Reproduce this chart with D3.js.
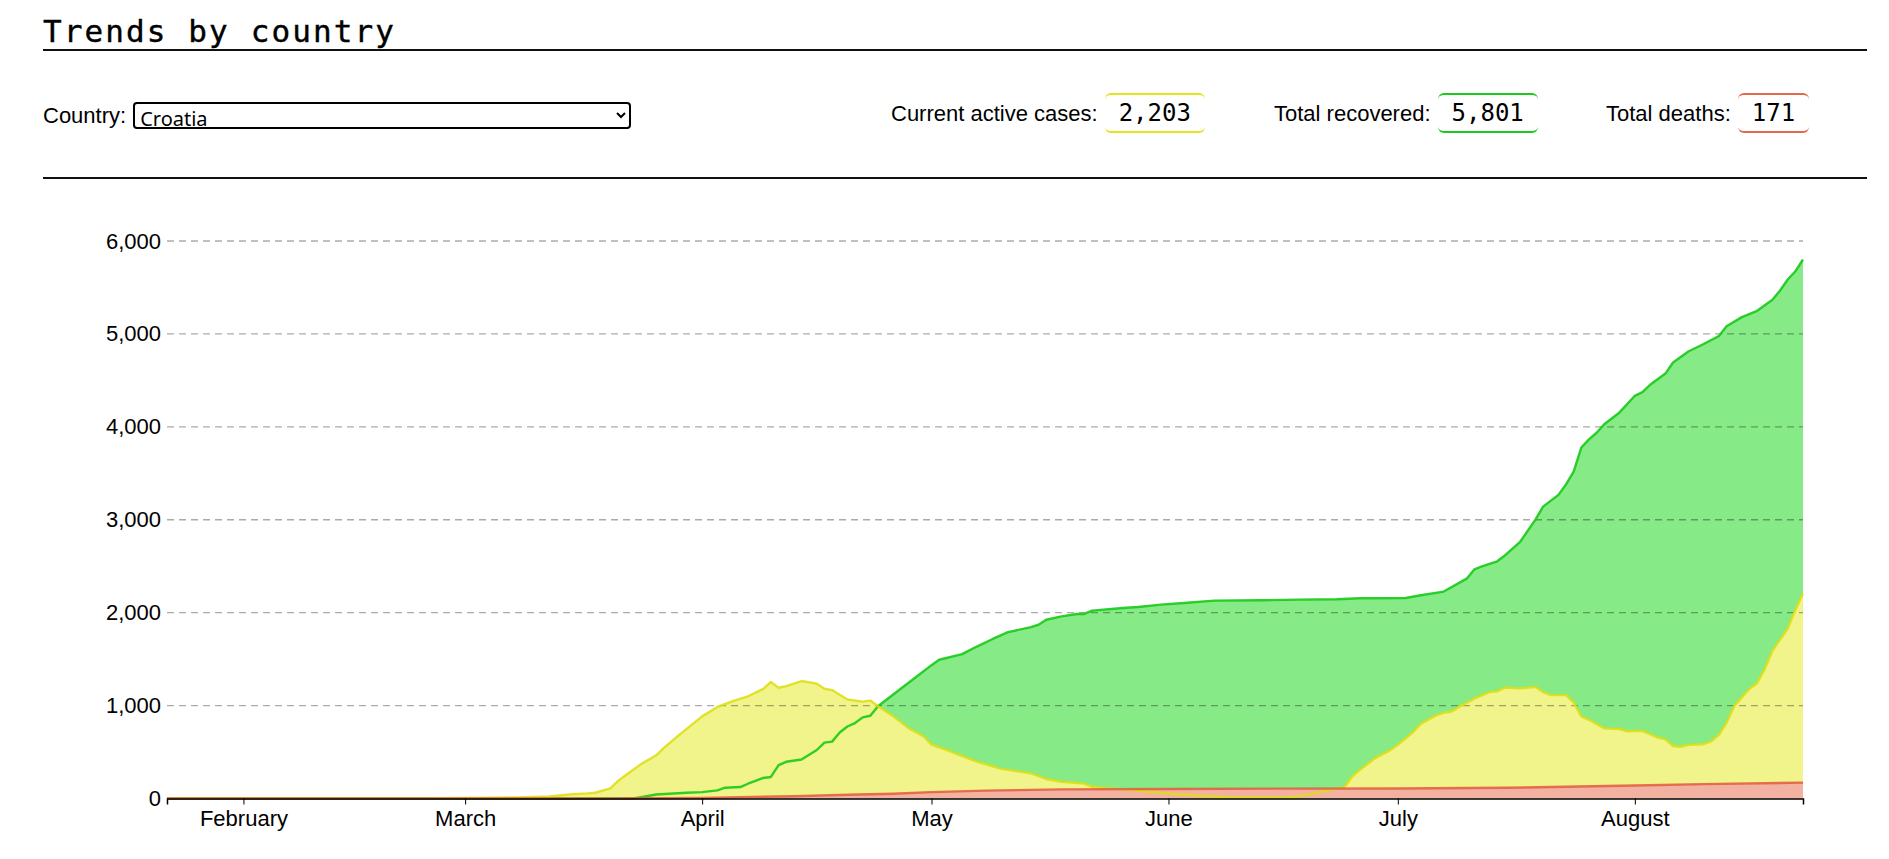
<!DOCTYPE html>
<html>
<head>
<meta charset="utf-8">
<title>Trends by country</title>
<script src="https://cdn.jsdelivr.net/npm/d3@7"></script>
<style>
  body { margin: 0; background: #fff; font-family: "Liberation Sans", Arial, sans-serif; color: #000; }
  #page { position: relative; width: 1889px; height: 859px; overflow: hidden; }
  .title { position: absolute; left: 43px; top: 16px; font: 31px/31px "DejaVu Sans Mono", monospace; letter-spacing: 2.1px; margin: 0; font-weight: normal; -webkit-text-stroke: 0.4px #000; }
  .rule { position: absolute; left: 43px; width: 1824px; height: 2px; background: #111; }
  .picker { position: absolute; left: 43px; top: 102px; display: flex; align-items: center; font-size: 22px; }
  .picker select { margin-left: 7px; width: 498px; height: 27px; border: 2px solid #000; border-radius: 4px;
    font: 20px/23px "Noto Sans", sans-serif; padding: 0 1px; background: #fff; color: #000; }
  .stat { position: absolute; top: 93px; height: 40px; display: flex; align-items: baseline; font-size: 22px; }
  .stat .val { margin-left: 7px; height: 36px; line-height: 36px; padding: 0 14px; border-radius: 6px;
    border-top: 2px solid; border-bottom: 2px solid; font: 24px/36px "DejaVu Sans Mono", monospace; }
  #chart { position: absolute; left: 0; top: 0; }
</style>
</head>
<body>
<div id="page">
  <h2 class="title">Trends by country</h2>
  <div class="rule" style="top:49px"></div>
  <div class="picker">Country: <select id="country"></select></div>
  <div class="stat" style="left:891px">Current active cases: <span class="val" id="v-active"></span></div>
  <div class="stat" style="left:1274px">Total recovered: <span class="val" id="v-recovered"></span></div>
  <div class="stat" style="left:1606px">Total deaths: <span class="val" id="v-deaths"></span></div>
  <div class="rule" style="top:177px"></div>
  <svg id="chart" width="1889" height="859"></svg>
</div>
<script>
const countries = ["Croatia"];

const activeDates = ["2020-01-22","2020-02-24","2020-02-27","2020-03-03","2020-03-08","2020-03-12","2020-03-15","2020-03-17","2020-03-18","2020-03-20","2020-03-21","2020-03-22","2020-03-24","2020-03-26","2020-03-27","2020-03-29","2020-04-01","2020-04-03","2020-04-05","2020-04-07","2020-04-09","2020-04-10","2020-04-11","2020-04-12","2020-04-14","2020-04-16","2020-04-17","2020-04-18","2020-04-20","2020-04-22","2020-04-23","2020-04-24","2020-04-26","2020-04-28","2020-04-30","2020-05-01","2020-05-03","2020-05-07","2020-05-10","2020-05-14","2020-05-16","2020-05-18","2020-05-21","2020-05-22","2020-05-27","2020-05-29","2020-06-01","2020-06-05","2020-06-09","2020-06-13","2020-06-17","2020-06-19","2020-06-21","2020-06-24","2020-06-25","2020-06-26","2020-06-28","2020-06-30","2020-07-01","2020-07-03","2020-07-04","2020-07-06","2020-07-07","2020-07-08","2020-07-09","2020-07-11","2020-07-13","2020-07-14","2020-07-15","2020-07-17","2020-07-19","2020-07-20","2020-07-21","2020-07-23","2020-07-24","2020-07-25","2020-07-26","2020-07-28","2020-07-30","2020-07-31","2020-08-02","2020-08-04","2020-08-05","2020-08-06","2020-08-07","2020-08-08","2020-08-10","2020-08-11","2020-08-12","2020-08-13","2020-08-14","2020-08-16","2020-08-17","2020-08-18","2020-08-19","2020-08-21","2020-08-22","2020-08-23"];
const activeValues = [0,0,3,6,12,22,45,55,62,108,190,250,370,465,545,685,884,985,1047,1100,1180,1254,1192,1210,1264,1236,1181,1167,1065,1043,1054,993,884,757,667,580,520,395,322,270,210,180,160,126,90,76,54,29,14,11,14,36,72,119,234,306,432,520,577,716,803,895,922,934,986,1074,1145,1153,1193,1185,1201,1145,1113,1113,1034,883,847,755,748,724,728,656,636,565,557,577,584,616,684,815,994,1181,1241,1392,1590,1829,2028,2203];

const recoveredDates = ["2020-01-22","2020-03-23","2020-03-24","2020-03-26","2020-03-30","2020-04-01","2020-04-03","2020-04-04","2020-04-06","2020-04-07","2020-04-09","2020-04-10","2020-04-11","2020-04-12","2020-04-14","2020-04-16","2020-04-17","2020-04-18","2020-04-19","2020-04-20","2020-04-21","2020-04-22","2020-04-23","2020-04-24","2020-04-26","2020-04-28","2020-05-01","2020-05-02","2020-05-05","2020-05-07","2020-05-09","2020-05-11","2020-05-14","2020-05-15","2020-05-16","2020-05-18","2020-05-20","2020-05-21","2020-05-22","2020-05-26","2020-05-28","2020-05-31","2020-06-03","2020-06-07","2020-06-13","2020-06-18","2020-06-23","2020-06-26","2020-07-02","2020-07-04","2020-07-07","2020-07-10","2020-07-11","2020-07-12","2020-07-14","2020-07-15","2020-07-17","2020-07-19","2020-07-20","2020-07-22","2020-07-23","2020-07-24","2020-07-25","2020-07-26","2020-07-27","2020-07-28","2020-07-30","2020-08-01","2020-08-02","2020-08-03","2020-08-05","2020-08-06","2020-08-08","2020-08-10","2020-08-12","2020-08-13","2020-08-15","2020-08-17","2020-08-19","2020-08-20","2020-08-21","2020-08-22","2020-08-23"];
const recoveredValues = [0,0,14,43,62,69,87,116,123,159,221,232,359,395,420,522,601,612,710,775,812,873,891,993,1120,1246,1435,1493,1554,1638,1717,1790,1845,1870,1924,1960,1986,1986,2022,2050,2061,2086,2104,2130,2133,2140,2144,2155,2158,2187,2227,2366,2465,2497,2553,2616,2763,3002,3141,3268,3380,3519,3777,3865,3936,4028,4155,4334,4374,4453,4573,4692,4811,4891,4978,5082,5181,5249,5368,5467,5586,5674,5801];

const deathDates = ["2020-01-22","2020-03-18","2020-03-20","2020-03-25","2020-04-01","2020-04-06","2020-04-13","2020-04-20","2020-04-26","2020-05-01","2020-05-08","2020-05-18","2020-06-01","2020-06-15","2020-07-01","2020-07-15","2020-08-01","2020-08-10","2020-08-23"];
const deathValues = [0,0,1,3,6,15,25,40,51,69,85,98,103,106,108,115,140,155,171];

const monthTicks = ["2020-02-01","2020-03-01","2020-04-01","2020-05-01","2020-06-01","2020-07-01","2020-08-01"];
const yTicks = [0,1000,2000,3000,4000,5000,6000];
const dateRange = ["2020-01-22","2020-08-23"];

const parse = d3.timeParse("%Y-%m-%d");
const fmt = d3.format(",");

const series = [
  { key: "recovered", dates: recoveredDates, values: recoveredValues, line: "#14c814", fill: "#86ea86" },
  { key: "active",    dates: activeDates,    values: activeValues,    line: "#dede14", fill: "#f1f48b" },
  { key: "deaths",    dates: deathDates,     values: deathValues,     line: "#e25f42", fill: "#f2b1a1" }
];
series.forEach(s => { s.data = s.dates.map((d, i) => ({ date: parse(d), value: s.values[i] })); });

// header
d3.select("#country").selectAll("option").data(countries).join("option").text(d => d);
d3.select("#v-active").text(fmt(activeValues[activeValues.length - 1])).style("border-color", "#e3e31f");
d3.select("#v-recovered").text(fmt(recoveredValues[recoveredValues.length - 1])).style("border-color", "#19cc19");
d3.select("#v-deaths").text(fmt(deathValues[deathValues.length - 1])).style("border-color", "#e4694c");

// chart
const svg = d3.select("#chart");
const x = d3.scaleTime().domain(dateRange.map(parse)).range([167, 1803]);
const y = d3.scaleLinear().domain([0, 6000]).range([798.5, 241]);

const area = d3.area().x(d => x(d.date)).y0(y(0)).y1(d => y(d.value));
const line = d3.line().x(d => x(d.date)).y(d => y(d.value));

svg.append("g").selectAll("path").data(series).join("path")
  .attr("d", s => area(s.data))
  .attr("fill", s => s.fill);

svg.append("g").selectAll("line").data(yTicks.filter(t => t > 0)).join("line")
  .attr("x1", x.range()[0]).attr("x2", x.range()[1])
  .attr("y1", d => y(d)).attr("y2", d => y(d))
  .attr("stroke", "#000").attr("stroke-opacity", 0.33)
  .attr("stroke-width", 1.3).attr("stroke-dasharray", "7,5");

svg.append("g").selectAll("path").data(series).join("path")
  .attr("d", s => line(s.data))
  .attr("fill", "none")
  .attr("stroke", s => s.line)
  .attr("stroke-width", 2.4)
  .attr("stroke-linejoin", "round")
  .attr("stroke-opacity", 0.88);

const xAxis = svg.append("g")
  .attr("transform", `translate(0,${y(0)})`)
  .call(d3.axisBottom(x).tickValues(monthTicks.map(parse)).tickFormat(d3.timeFormat("%B")).tickPadding(6));
xAxis.select(".domain").attr("stroke-width", 1.5);
xAxis.selectAll("text").attr("font-size", 22).attr("font-family", "Liberation Sans, Arial, sans-serif").attr("fill", "#000");

const yAxis = svg.append("g")
  .attr("transform", `translate(${x.range()[0]},0)`)
  .call(d3.axisLeft(y).tickValues(yTicks).tickFormat(fmt).tickSize(0).tickPadding(6));
yAxis.select(".domain").remove();
yAxis.selectAll("text").attr("font-size", 22).attr("font-family", "Liberation Sans, Arial, sans-serif").attr("fill", "#000");
</script>
</body>
</html>
